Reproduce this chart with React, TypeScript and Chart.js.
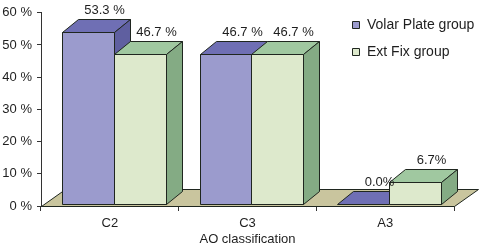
import React, { useEffect, useRef } from "react";
import { Chart, registerables } from "chart.js";

Chart.register(...registerables);

const categories = ["C2", "C3", "A3"];
const volarPlate = [53.3, 46.7, 0.0];
const extFix = [46.7, 46.7, 6.7];
const volarLabels = ["53.3 %", "46.7 %", "0.0%"];
const extFixLabels = ["46.7 %", "46.7 %", "6.7%"];
const seriesNames = ["Volar Plate group", "Ext Fix group"];
const yMin = 0;
const yMax = 60;
const yStep = 10;
const axisTitle = "AO classification";

const FONT = '"Liberation Sans", Arial, Helvetica, sans-serif';
const EDGE = "#1f261f";
const TEXT = "#1e1e1e";
const FLOOR_FILL = "#c9c59e";
const BAR_D = { dx: 16, dy: -13 };
const FLOOR_D = { dx: 24, dy: -17 };
const OFF = { dx: (FLOOR_D.dx - BAR_D.dx) / 2, dy: (FLOOR_D.dy - BAR_D.dy) / 2 };

const palette = [
  { front: "#9b9bcd", top: "#6f6fb4", side: "#5f5fa0" },
  { front: "#dde9cc", top: "#a0c8a0", side: "#84ab84" },
];

const seriesLabels = [volarLabels, extFixLabels];

function poly(ctx: CanvasRenderingContext2D, pts: number[][], fill: string) {
  ctx.beginPath();
  ctx.moveTo(pts[0][0], pts[0][1]);
  for (let i = 1; i < pts.length; i++) ctx.lineTo(pts[i][0], pts[i][1]);
  ctx.closePath();
  ctx.fillStyle = fill;
  ctx.fill();
  ctx.strokeStyle = EDGE;
  ctx.lineWidth = 1;
  ctx.stroke();
}

function barGeom(chart: any, di: number, c: number) {
  const el = chart.getDatasetMeta(di).data[c];
  const p = el.getProps(["x", "y", "base", "width"], true);
  const x0 = Math.round(p.x - p.width / 2 + OFF.dx) + 0.5;
  const x1 = Math.round(p.x + p.width / 2 + OFF.dx) + 0.5;
  const top = Math.round(p.y + OFF.dy) + 0.5;
  const bot = Math.round(p.base + OFF.dy) + 0.5;
  return { x0, x1, top, bot };
}

const threeDPlugin = {
  id: "threeD",
  beforeDatasetsDraw(chart: any) {
    const { ctx, chartArea, scales } = chart;
    const y0 = Math.round(scales.y.getPixelForValue(0)) + 0.5;
    const l = Math.round(chartArea.left) + 0.5;
    const r = Math.round(chartArea.right) + 0.5;
    ctx.save();
    poly(
      ctx,
      [
        [l, y0],
        [r, y0],
        [r + FLOOR_D.dx, y0 + FLOOR_D.dy],
        [l + FLOOR_D.dx, y0 + FLOOR_D.dy],
      ],
      FLOOR_FILL
    );
    const n = chart.data.datasets.length;
    for (let c = 0; c < categories.length; c++) {
      for (let di = 0; di < n; di++) {
        const { x0, x1, top, bot } = barGeom(chart, di, c);
        const col = palette[di];
        if (bot - top > 0.5) {
          ctx.beginPath();
          ctx.rect(x0, top, x1 - x0, bot - top);
          ctx.fillStyle = col.front;
          ctx.fill();
          ctx.strokeStyle = EDGE;
          ctx.lineWidth = 1;
          ctx.stroke();
        }
        poly(
          ctx,
          [
            [x0, top],
            [x1, top],
            [x1 + BAR_D.dx, top + BAR_D.dy],
            [x0 + BAR_D.dx, top + BAR_D.dy],
          ],
          col.top
        );
        if (bot - top > 0.5) {
          poly(
            ctx,
            [
              [x1, top],
              [x1 + BAR_D.dx, top + BAR_D.dy],
              [x1 + BAR_D.dx, bot + BAR_D.dy],
              [x1, bot],
            ],
            col.side
          );
        }
      }
    }
    ctx.restore();
    return false;
  },
  afterDraw(chart: any) {
    const { ctx } = chart;
    ctx.save();
    ctx.font = `13px ${FONT}`;
    ctx.fillStyle = TEXT;
    ctx.textAlign = "center";
    ctx.textBaseline = "middle";
    const n = chart.data.datasets.length;
    for (let di = 0; di < n; di++) {
      for (let c = 0; c < categories.length; c++) {
        const { x0, x1, top } = barGeom(chart, di, c);
        const cx = (x0 + x1) / 2 + BAR_D.dx;
        const cy = top + BAR_D.dy - 9;
        ctx.fillText(seriesLabels[di][c], cx, cy);
      }
    }
    // legend
    const legendX = 352;
    const legendY = [25, 52];
    ctx.textAlign = "left";
    ctx.font = `14px ${FONT}`;
    for (let di = 0; di < n; di++) {
      const cy = legendY[di];
      ctx.beginPath();
      ctx.rect(legendX + 0.5, cy - 3.5, 7, 7);
      ctx.fillStyle = palette[di].front;
      ctx.fill();
      ctx.strokeStyle = EDGE;
      ctx.lineWidth = 1;
      ctx.stroke();
      ctx.fillStyle = TEXT;
      ctx.fillText(seriesNames[di], legendX + 15, cy + 0.5);
    }
    ctx.restore();
  },
};

export default function App() {
  const ref = useRef<HTMLCanvasElement | null>(null);
  useEffect(() => {
    document.body.style.margin = "0";
    const canvas = ref.current;
    if (!canvas) return;
    const chart = new Chart(canvas, {
      type: "bar",
      data: {
        labels: categories,
        datasets: [
          { label: seriesNames[0], data: volarPlate, backgroundColor: palette[0].front },
          { label: seriesNames[1], data: extFix, backgroundColor: palette[1].front },
        ],
      },
      options: {
        responsive: false,
        animation: false,
        devicePixelRatio: 1,
        layout: { padding: { left: 0, top: 12, right: 31, bottom: 0 } },
        datasets: { bar: { barPercentage: 1, categoryPercentage: 0.755 } },
        plugins: {
          legend: { display: false },
          tooltip: { enabled: false },
          title: { display: false },
        },
        scales: {
          x: {
            grid: {
              display: true,
              drawOnChartArea: false,
              drawTicks: true,
              tickLength: 5,
              color: "#333",
              offset: true,
            },
            border: { display: true, color: "#333", width: 1 },
            ticks: { color: TEXT, font: { family: FONT, size: 13 }, padding: 5 },
            title: {
              display: true,
              text: axisTitle,
              color: TEXT,
              font: { family: FONT, size: 13 },
              padding: { top: 0, bottom: 0 },
            },
            afterFit: (s: any) => {
              s.height = 41;
            },
          },
          y: {
            min: yMin,
            max: yMax,
            grid: {
              display: true,
              drawOnChartArea: false,
              drawTicks: true,
              tickLength: 4,
              color: "#333",
            },
            border: { display: true, color: "#333", width: 1 },
            ticks: {
              stepSize: yStep,
              color: TEXT,
              font: { family: FONT, size: 13 },
              padding: 5,
              callback: (v: any) => `${v} %`,
            },
            afterFit: (s: any) => {
              s.width = 41;
            },
          },
        },
      },
      plugins: [threeDPlugin],
    });
    return () => chart.destroy();
  }, []);
  return (
    <div style={{ width: 485, height: 247, background: "#fff" }}>
      <canvas ref={ref} width={485} height={247} style={{ display: "block" }} />
    </div>
  );
}
